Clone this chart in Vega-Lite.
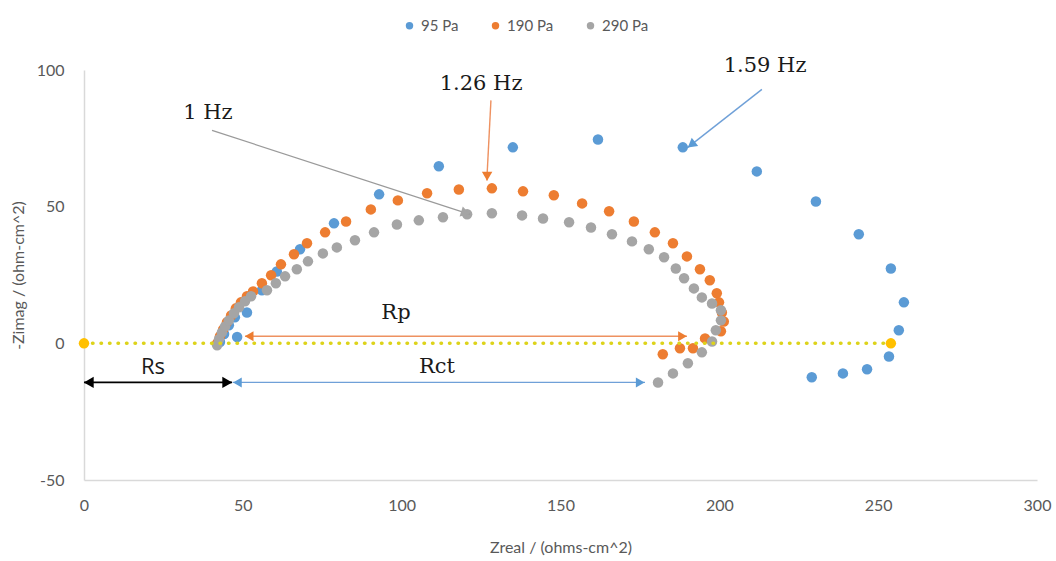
{
  "$schema": "https://vega.github.io/schema/vega-lite/v6.json",
  "width": 953,
  "height": 410,
  "autosize": {"type": "none"},
  "padding": {"left": 84, "top": 70, "right": 19, "bottom": 81},
  "background": "white",
  "config": {
    "view": {"stroke": null},
    "axis": {"grid": false, "ticks": false, "labelFlush": false, "labelBound": false, "domainColor": "#D9D9D9", "domainWidth": 1.5, "labelFont": "Lato", "labelFontSize": 16, "labelColor": "#595959", "titleFont": "Lato", "titleFontSize": 16, "titleFontWeight": "normal", "titleColor": "#595959", "labelExpr": "replace(datum.label, '\u2212', '-')"}
  },
  "datasets": {
    "eis": [
      {"series": "95 Pa", "zre": 42.8, "zim": 0.5},
      {"series": "95 Pa", "zre": 44.1, "zim": 3.4},
      {"series": "95 Pa", "zre": 45.6, "zim": 6.6},
      {"series": "95 Pa", "zre": 47.5, "zim": 9.5},
      {"series": "95 Pa", "zre": 48.2, "zim": 2.3},
      {"series": "95 Pa", "zre": 51.3, "zim": 11.3},
      {"series": "95 Pa", "zre": 56.0, "zim": 19.4},
      {"series": "95 Pa", "zre": 60.7, "zim": 26.3},
      {"series": "95 Pa", "zre": 68.0, "zim": 34.4},
      {"series": "95 Pa", "zre": 78.7, "zim": 43.9},
      {"series": "95 Pa", "zre": 92.9, "zim": 54.5},
      {"series": "95 Pa", "zre": 111.7, "zim": 64.8},
      {"series": "95 Pa", "zre": 135.0, "zim": 71.7},
      {"series": "95 Pa", "zre": 161.8, "zim": 74.6},
      {"series": "95 Pa", "zre": 188.5, "zim": 71.7},
      {"series": "95 Pa", "zre": 211.8, "zim": 62.9},
      {"series": "95 Pa", "zre": 230.4, "zim": 51.9},
      {"series": "95 Pa", "zre": 243.9, "zim": 39.9},
      {"series": "95 Pa", "zre": 254.0, "zim": 27.4},
      {"series": "95 Pa", "zre": 258.1, "zim": 15.0},
      {"series": "95 Pa", "zre": 256.5, "zim": 4.8},
      {"series": "95 Pa", "zre": 253.4, "zim": -4.8},
      {"series": "95 Pa", "zre": 246.5, "zim": -9.5},
      {"series": "95 Pa", "zre": 238.9, "zim": -11.0},
      {"series": "95 Pa", "zre": 229.1, "zim": -12.4},
      {"series": "190 Pa", "zre": 41.9, "zim": 0.0},
      {"series": "190 Pa", "zre": 42.8, "zim": 2.6},
      {"series": "190 Pa", "zre": 43.8, "zim": 5.1},
      {"series": "190 Pa", "zre": 45.0, "zim": 7.7},
      {"series": "190 Pa", "zre": 46.3, "zim": 10.2},
      {"series": "190 Pa", "zre": 47.8, "zim": 12.8},
      {"series": "190 Pa", "zre": 49.4, "zim": 15.0},
      {"series": "190 Pa", "zre": 51.3, "zim": 17.2},
      {"series": "190 Pa", "zre": 53.2, "zim": 19.0},
      {"series": "190 Pa", "zre": 56.0, "zim": 22.0},
      {"series": "190 Pa", "zre": 58.9, "zim": 24.9},
      {"series": "190 Pa", "zre": 62.0, "zim": 28.9},
      {"series": "190 Pa", "zre": 66.1, "zim": 32.6},
      {"series": "190 Pa", "zre": 70.2, "zim": 36.6},
      {"series": "190 Pa", "zre": 75.9, "zim": 40.6},
      {"series": "190 Pa", "zre": 82.5, "zim": 44.6},
      {"series": "190 Pa", "zre": 90.3, "zim": 49.0},
      {"series": "190 Pa", "zre": 98.8, "zim": 52.3},
      {"series": "190 Pa", "zre": 108.0, "zim": 54.9},
      {"series": "190 Pa", "zre": 118.0, "zim": 56.3},
      {"series": "190 Pa", "zre": 128.4, "zim": 56.7},
      {"series": "190 Pa", "zre": 138.2, "zim": 55.6},
      {"series": "190 Pa", "zre": 147.9, "zim": 54.2},
      {"series": "190 Pa", "zre": 156.8, "zim": 51.2},
      {"series": "190 Pa", "zre": 165.3, "zim": 48.3},
      {"series": "190 Pa", "zre": 173.1, "zim": 44.6},
      {"series": "190 Pa", "zre": 179.7, "zim": 40.6},
      {"series": "190 Pa", "zre": 185.4, "zim": 36.6},
      {"series": "190 Pa", "zre": 189.8, "zim": 31.8},
      {"series": "190 Pa", "zre": 193.9, "zim": 27.1},
      {"series": "190 Pa", "zre": 197.0, "zim": 23.1},
      {"series": "190 Pa", "zre": 199.2, "zim": 18.3},
      {"series": "190 Pa", "zre": 199.9, "zim": 15.0},
      {"series": "190 Pa", "zre": 200.8, "zim": 11.3},
      {"series": "190 Pa", "zre": 201.4, "zim": 8.0},
      {"series": "190 Pa", "zre": 200.5, "zim": 4.4},
      {"series": "190 Pa", "zre": 195.5, "zim": 1.8},
      {"series": "190 Pa", "zre": 191.7, "zim": -1.8},
      {"series": "190 Pa", "zre": 187.6, "zim": -1.8},
      {"series": "190 Pa", "zre": 182.2, "zim": -4.0},
      {"series": "290 Pa", "zre": 41.9, "zim": -0.7},
      {"series": "290 Pa", "zre": 42.5, "zim": 1.5},
      {"series": "290 Pa", "zre": 43.4, "zim": 4.0},
      {"series": "290 Pa", "zre": 44.4, "zim": 6.2},
      {"series": "290 Pa", "zre": 45.6, "zim": 8.4},
      {"series": "290 Pa", "zre": 47.2, "zim": 11.0},
      {"series": "290 Pa", "zre": 48.8, "zim": 13.2},
      {"series": "290 Pa", "zre": 50.7, "zim": 15.4},
      {"series": "290 Pa", "zre": 52.6, "zim": 17.2},
      {"series": "290 Pa", "zre": 57.6, "zim": 19.4},
      {"series": "290 Pa", "zre": 60.4, "zim": 22.0},
      {"series": "290 Pa", "zre": 63.3, "zim": 24.5},
      {"series": "290 Pa", "zre": 67.0, "zim": 27.1},
      {"series": "290 Pa", "zre": 70.5, "zim": 30.0},
      {"series": "290 Pa", "zre": 75.2, "zim": 32.9},
      {"series": "290 Pa", "zre": 79.6, "zim": 35.1},
      {"series": "290 Pa", "zre": 85.3, "zim": 37.7},
      {"series": "290 Pa", "zre": 91.3, "zim": 40.6},
      {"series": "290 Pa", "zre": 98.5, "zim": 43.5},
      {"series": "290 Pa", "zre": 105.4, "zim": 45.0},
      {"series": "290 Pa", "zre": 113.0, "zim": 46.1},
      {"series": "290 Pa", "zre": 120.6, "zim": 47.2},
      {"series": "290 Pa", "zre": 128.4, "zim": 47.6},
      {"series": "290 Pa", "zre": 137.9, "zim": 46.8},
      {"series": "290 Pa", "zre": 144.5, "zim": 45.7},
      {"series": "290 Pa", "zre": 152.7, "zim": 44.3},
      {"series": "290 Pa", "zre": 159.6, "zim": 42.4},
      {"series": "290 Pa", "zre": 166.2, "zim": 39.9},
      {"series": "290 Pa", "zre": 172.5, "zim": 37.3},
      {"series": "290 Pa", "zre": 177.8, "zim": 34.4},
      {"series": "290 Pa", "zre": 182.6, "zim": 31.5},
      {"series": "290 Pa", "zre": 186.3, "zim": 27.4},
      {"series": "290 Pa", "zre": 188.9, "zim": 23.8},
      {"series": "290 Pa", "zre": 192.0, "zim": 20.1},
      {"series": "290 Pa", "zre": 194.5, "zim": 16.8},
      {"series": "290 Pa", "zre": 197.7, "zim": 14.6},
      {"series": "290 Pa", "zre": 200.5, "zim": 12.1},
      {"series": "290 Pa", "zre": 200.5, "zim": 8.4},
      {"series": "290 Pa", "zre": 198.9, "zim": 4.8},
      {"series": "290 Pa", "zre": 197.7, "zim": 0.7},
      {"series": "290 Pa", "zre": 194.5, "zim": -3.3},
      {"series": "290 Pa", "zre": 190.1, "zim": -7.3},
      {"series": "290 Pa", "zre": 185.4, "zim": -11.0},
      {"series": "290 Pa", "zre": 180.7, "zim": -14.3}
    ],
    "refline": [{"x": 0, "x2": 254, "y": 0}],
    "refends": [{"x": 0, "y": 0}, {"x": 254, "y": 0}],
    "arrows": [
      {"name": "Rs", "x": 0, "y": -14.3, "x2": 46.6, "y2": -14.3},
      {"name": "Rct", "x": 46.8, "y": -14.3, "x2": 176.6, "y2": -14.3},
      {"name": "Rp", "x": 50.7, "y": 2.6, "x2": 189.8, "y2": 2.6},
      {"name": "1Hz", "x": 40.3, "y": 77.9, "x2": 121.5, "y2": 47.2},
      {"name": "1.26Hz", "x": 128.1, "y": 88.9, "x2": 126.8, "y2": 59.6},
      {"name": "1.59Hz", "x": 213.4, "y": 92.9, "x2": 190.1, "y2": 71.7}
    ],
    "heads": [
      {"name": "Rs-L", "x": 1.5, "y": -14.3},
      {"name": "Rs-R", "x": 45.1, "y": -14.3},
      {"name": "Rct-L", "x": 48.3, "y": -14.3},
      {"name": "Rct-R", "x": 175.1, "y": -14.3},
      {"name": "Rp-L", "x": 52.0, "y": 2.6},
      {"name": "Rp-R", "x": 188.4, "y": 2.6},
      {"name": "1Hz", "x": 120.1, "y": 47.7},
      {"name": "1.26Hz", "x": 126.9, "y": 61.1},
      {"name": "1.59Hz", "x": 191.2, "y": 72.7}
    ],
    "serifLabels": [
      {"label": "1 Hz", "x": 39.0, "y": 84.2},
      {"label": "1.26 Hz", "x": 125.0, "y": 94.8},
      {"label": "1.59 Hz", "x": 214.4, "y": 101.4},
      {"label": "Rp", "x": 98.2, "y": 11.0},
      {"label": "Rct", "x": 111.1, "y": -8.8}
    ],
    "sansLabels": [
      {"label": "Rs", "x": 21.7, "y": -8.8}
    ]
  },
  "layer": [
    {
      "data": {"name": "eis"},
      "mark": {"type": "point", "filled": true, "opacity": 1, "size": 110},
      "encoding": {
        "x": {"field": "zre", "type": "quantitative", "scale": {"domain": [0, 300], "nice": false}, "axis": {"values": [0, 50, 100, 150, 200, 250, 300], "labelPadding": 17, "title": "Zreal / (ohms-cm^2)", "titlePadding": 26}},
        "y": {"field": "zim", "type": "quantitative", "scale": {"domain": [-50, 100], "nice": false, "zero": false}, "axis": {"values": [-50, 0, 50, 100], "labelPadding": 20, "title": "-Zimag / (ohm-cm^2)", "titlePadding": 10}},
        "color": {"field": "series", "type": "nominal", "sort": ["95 Pa", "190 Pa", "290 Pa"], "scale": {"domain": ["95 Pa", "190 Pa", "290 Pa"], "range": ["#5B9BD5", "#ED7D31", "#A5A5A5"]},
          "legend": {"title": null, "orient": "none", "direction": "horizontal", "legendX": 318, "legendY": -52, "symbolType": "circle", "symbolSize": 55, "labelFont": "Lato", "labelFontSize": 15, "labelColor": "#595959", "labelOffset": 4, "columnPadding": 29, "padding": 0}}
      }
    },
    {
      "data": {"name": "refline"},
      "mark": {"type": "rule", "color": "#DDD31A", "strokeWidth": 3.5, "strokeDash": [0.5, 8], "strokeCap": "round"},
      "encoding": {"x": {"field": "x", "type": "quantitative"}, "x2": {"field": "x2"}, "y": {"field": "y", "type": "quantitative"}}
    },
    {
      "data": {"name": "refends"},
      "mark": {"type": "point", "filled": true, "opacity": 1, "size": 110, "color": "#FFC000"},
      "encoding": {"x": {"field": "x", "type": "quantitative"}, "y": {"field": "y", "type": "quantitative"}}
    },
    {
      "data": {"name": "arrows"},
      "transform": [{"filter": "datum.name === 'Rs'"}],
      "mark": {"type": "rule", "color": "#000000", "strokeWidth": 1.6},
      "encoding": {"x": {"field": "x", "type": "quantitative"}, "x2": {"field": "x2"}, "y": {"field": "y", "type": "quantitative"}, "y2": {"field": "y2"}}
    },
    {
      "data": {"name": "arrows"},
      "transform": [{"filter": "datum.name === 'Rct' || datum.name === '1.59Hz'"}],
      "mark": {"type": "rule", "color": "#6FA0D8", "strokeWidth": 1.4},
      "encoding": {"x": {"field": "x", "type": "quantitative"}, "x2": {"field": "x2"}, "y": {"field": "y", "type": "quantitative"}, "y2": {"field": "y2"}}
    },
    {
      "data": {"name": "arrows"},
      "transform": [{"filter": "datum.name === 'Rp' || datum.name === '1.26Hz'"}],
      "mark": {"type": "rule", "color": "#EE9160", "strokeWidth": 1.4},
      "encoding": {"x": {"field": "x", "type": "quantitative"}, "x2": {"field": "x2"}, "y": {"field": "y", "type": "quantitative"}, "y2": {"field": "y2"}}
    },
    {
      "data": {"name": "arrows"},
      "transform": [{"filter": "datum.name === '1Hz'"}],
      "mark": {"type": "rule", "color": "#9A9A9A", "strokeWidth": 1.2},
      "encoding": {"x": {"field": "x", "type": "quantitative"}, "x2": {"field": "x2"}, "y": {"field": "y", "type": "quantitative"}, "y2": {"field": "y2"}}
    },
    {
      "data": {"name": "heads"},
      "transform": [{"filter": "datum.name === 'Rs-L'"}],
      "mark": {"type": "point", "shape": "triangle-up", "filled": true, "opacity": 1, "size": 130, "color": "#000000", "angle": 270},
      "encoding": {"x": {"field": "x", "type": "quantitative"}, "y": {"field": "y", "type": "quantitative"}}
    },
    {
      "data": {"name": "heads"},
      "transform": [{"filter": "datum.name === 'Rs-R'"}],
      "mark": {"type": "point", "shape": "triangle-up", "filled": true, "opacity": 1, "size": 130, "color": "#000000", "angle": 90},
      "encoding": {"x": {"field": "x", "type": "quantitative"}, "y": {"field": "y", "type": "quantitative"}}
    },
    {
      "data": {"name": "heads"},
      "transform": [{"filter": "datum.name === 'Rct-L'"}],
      "mark": {"type": "point", "shape": "triangle-up", "filled": true, "opacity": 1, "size": 100, "color": "#5B9BD5", "angle": 270},
      "encoding": {"x": {"field": "x", "type": "quantitative"}, "y": {"field": "y", "type": "quantitative"}}
    },
    {
      "data": {"name": "heads"},
      "transform": [{"filter": "datum.name === 'Rct-R'"}],
      "mark": {"type": "point", "shape": "triangle-up", "filled": true, "opacity": 1, "size": 100, "color": "#5B9BD5", "angle": 90},
      "encoding": {"x": {"field": "x", "type": "quantitative"}, "y": {"field": "y", "type": "quantitative"}}
    },
    {
      "data": {"name": "heads"},
      "transform": [{"filter": "datum.name === 'Rp-L'"}],
      "mark": {"type": "point", "shape": "triangle-up", "filled": true, "opacity": 1, "size": 100, "color": "#ED7D31", "angle": 270},
      "encoding": {"x": {"field": "x", "type": "quantitative"}, "y": {"field": "y", "type": "quantitative"}}
    },
    {
      "data": {"name": "heads"},
      "transform": [{"filter": "datum.name === 'Rp-R'"}],
      "mark": {"type": "point", "shape": "triangle-up", "filled": true, "opacity": 1, "size": 100, "color": "#ED7D31", "angle": 90},
      "encoding": {"x": {"field": "x", "type": "quantitative"}, "y": {"field": "y", "type": "quantitative"}}
    },
    {
      "data": {"name": "heads"},
      "transform": [{"filter": "datum.name === '1.26Hz'"}],
      "mark": {"type": "point", "shape": "triangle-up", "filled": true, "opacity": 1, "size": 110, "color": "#ED7D31", "angle": 180},
      "encoding": {"x": {"field": "x", "type": "quantitative"}, "y": {"field": "y", "type": "quantitative"}}
    },
    {
      "data": {"name": "heads"},
      "transform": [{"filter": "datum.name === '1Hz'"}],
      "mark": {"type": "point", "shape": "triangle-up", "filled": true, "opacity": 1, "size": 110, "color": "#A5A5A5", "angle": 108},
      "encoding": {"x": {"field": "x", "type": "quantitative"}, "y": {"field": "y", "type": "quantitative"}}
    },
    {
      "data": {"name": "heads"},
      "transform": [{"filter": "datum.name === '1.59Hz'"}],
      "mark": {"type": "point", "shape": "triangle-up", "filled": true, "opacity": 1, "size": 110, "color": "#5B9BD5", "angle": 232},
      "encoding": {"x": {"field": "x", "type": "quantitative"}, "y": {"field": "y", "type": "quantitative"}}
    },
    {
      "data": {"name": "serifLabels"},
      "mark": {"type": "text", "font": "DejaVu Serif", "fontSize": 21, "color": "#1A1A1A", "align": "center", "baseline": "middle"},
      "encoding": {"x": {"field": "x", "type": "quantitative"}, "y": {"field": "y", "type": "quantitative"}, "text": {"field": "label"}}
    },
    {
      "data": {"name": "sansLabels"},
      "mark": {"type": "text", "font": "Open Sans", "fontSize": 22, "color": "#1A1A1A", "align": "center", "baseline": "middle"},
      "encoding": {"x": {"field": "x", "type": "quantitative"}, "y": {"field": "y", "type": "quantitative"}, "text": {"field": "label"}}
    }
  ]
}
